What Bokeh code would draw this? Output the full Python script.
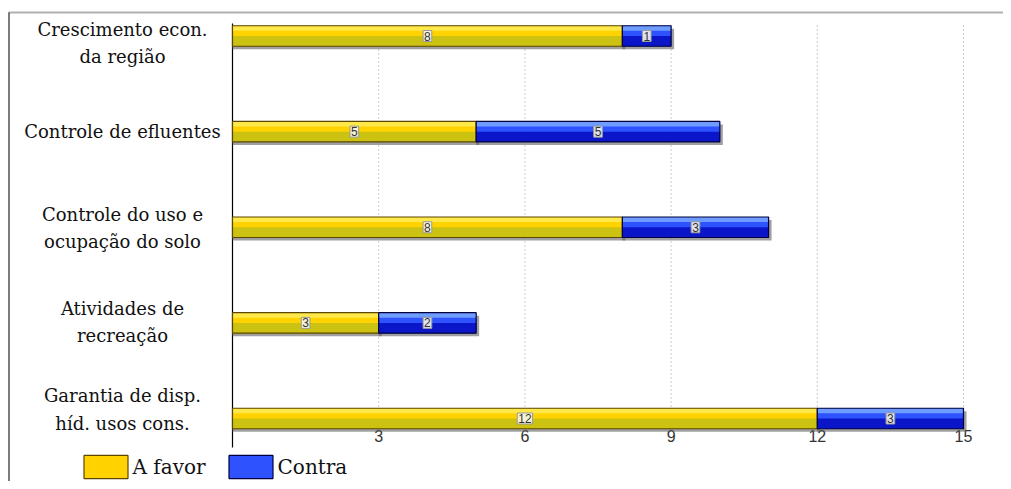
from bokeh.plotting import figure
from bokeh.models import Range1d, Legend, LegendItem, ColumnDataSource
from bokeh.core.properties import value
from bokeh.embed import file_html
from bokeh.resources import INLINE

# ---- data ----
categories = ["Crescimento econ.\nda região",
              "Controle de efluentes",
              "Controle do uso e\nocupação do solo",
              "Atividades de\nrecreação",
              "Garantia de disp.\nhíd. usos cons."]
a_favor = [8, 5, 8, 3, 12]
contra = [1, 5, 3, 2, 3]
series_names = ["A favor", "Contra"]
x_ticks = [3, 6, 9, 12, 15]

# ---- layout (page pixels) ----
W, HGT = 1003, 481
ORG_X, ORG_Y = 0, 0                 # page offset of the figure
X0_PX, X15_PX = 232, 963            # where value 0 and value 15 fall
YTOP_PX, YBOT_PX = 35.5, 418        # centres of first and last category
LABEL_SHIFT_PX = [7, 0, 1, -1, -9]  # vertical nudge of category labels (down = +)
xs = (X15_PX - X0_PX) / 15.0
ys = (YBOT_PX - YTOP_PX) / 4.0


def dx(px):
    return (px - X0_PX) / xs


def dy(py):
    return (YBOT_PX - py) / ys


x_start, x_end = dx(ORG_X), dx(ORG_X + W)
y_top, y_bot = dy(ORG_Y), dy(ORG_Y + HGT)

BAR_H = 20.5 / ys
styles = {
    "A favor": dict(base="#FFD200", top="#FFE94A", bottom="#CCC212", edge="#5A4600"),
    "Contra": dict(base="#2F52FF", top="#6E9CFF", bottom="#0A16C8", edge="#000040"),
}

n = len(categories)
ypos = [n - 1 - i for i in range(n)]

p = figure(width=W, height=HGT, x_range=Range1d(x_start, x_end), y_range=Range1d(y_bot, y_top),
           output_backend="svg", toolbar_location=None,
           min_border=0, outline_line_color=None,
           background_fill_color="white", border_fill_color="white")
p.axis.visible = False
p.grid.visible = False

# chart border (top and left)
p.segment(x0=[dx(8)], x1=[x_end], y0=[dy(12)], y1=[dy(12)], line_color="#b0b0b0", line_width=2)
p.segment(x0=[dx(8.5)], x1=[dx(8.5)], y0=[dy(12)], y1=[y_bot], line_color="#505050", line_width=1.5)

# dotted vertical grid lines
p.segment(x0=x_ticks, x1=x_ticks, y0=[dy(430)] * len(x_ticks), y1=[dy(23)] * len(x_ticks),
          line_color="#9a9a9a", line_dash="1 3", line_width=1)
# value axis line
p.segment(x0=[0], x1=[0], y0=[dy(447)], y1=[dy(23)], line_color="#000000", line_width=1.2)
# value tick labels
p.text(x=x_ticks, y=[dy(429)] * len(x_ticks), text=[str(t) for t in x_ticks],
       text_align="center", text_baseline="top", text_font=value("Liberation Sans"),
       text_font_size="16px", text_color="#333333")

lefts = {"A favor": [0] * n, "Contra": list(a_favor)}
rights = {"A favor": list(a_favor), "Contra": [a + c for a, c in zip(a_favor, contra)]}
vals = {"A favor": a_favor, "Contra": contra}

legend_items = []
for name in series_names:
    st = styles[name]
    L = lefts[name]
    R = rights[name]
    src = ColumnDataSource(dict(
        y=ypos, left=L, right=R,
        sh_y=[y - 3 / ys for y in ypos], sh_right=[r + 3 / xs for r in R],
        top_y=[y + BAR_H / 2 - 2.5 / ys for y in ypos],
        bot_y=[y - BAR_H / 4 for y in ypos],
        mid=[(l + r) / 2 for l, r in zip(L, R)],
        label=[str(v) for v in vals[name]],
    ))
    p.hbar(y="sh_y", left="left", right="sh_right", height=BAR_H, source=src,
           fill_color="#606060", fill_alpha=0.6, line_color=None)
    base = p.hbar(y="y", left="left", right="right", height=BAR_H, source=src,
                  fill_color=st["base"], line_color=None)
    p.hbar(y="top_y", left="left", right="right", height=5 / ys, source=src,
           fill_color=st["top"], line_color=None)
    p.hbar(y="bot_y", left="left", right="right", height=BAR_H / 2, source=src,
           fill_color=st["bottom"], line_color=None)
    edge = p.hbar(y="y", left="left", right="right", height=BAR_H, source=src,
                  fill_color=None, line_color=st["edge"], line_width=1.2)
    p.text(x="mid", y="y", text="label", source=src, text_align="center",
           text_baseline="middle", text_font=value("Liberation Sans"),
           text_font_size="12px", text_color="#333333",
           background_fill_color="#F6F6EC", background_fill_alpha=0.9,
           border_line_color="#9a9a9a", padding=1)
    legend_items.append(LegendItem(label=name, renderers=[base, edge]))

# category labels
p.text(x=[dx(122)] * n, y=[y - s / ys for y, s in zip(ypos, LABEL_SHIFT_PX)], text=categories,
       text_align="center", text_baseline="middle", text_font=value("DejaVu Serif"),
       text_font_size="18px", text_color="#111111", text_line_height=1.3)

legend = Legend(items=legend_items, orientation="horizontal",
                location=(77.5 - ORG_X, 0),
                glyph_width=55, glyph_height=29, label_standoff=0, spacing=17,
                padding=0, margin=0, border_line_color=None, background_fill_alpha=0,
                label_text_font="DejaVu Serif", label_text_font_size="20px",
                label_text_color="#111111")
p.add_layout(legend)

open("out.html", "w").write(file_html(p, INLINE))
